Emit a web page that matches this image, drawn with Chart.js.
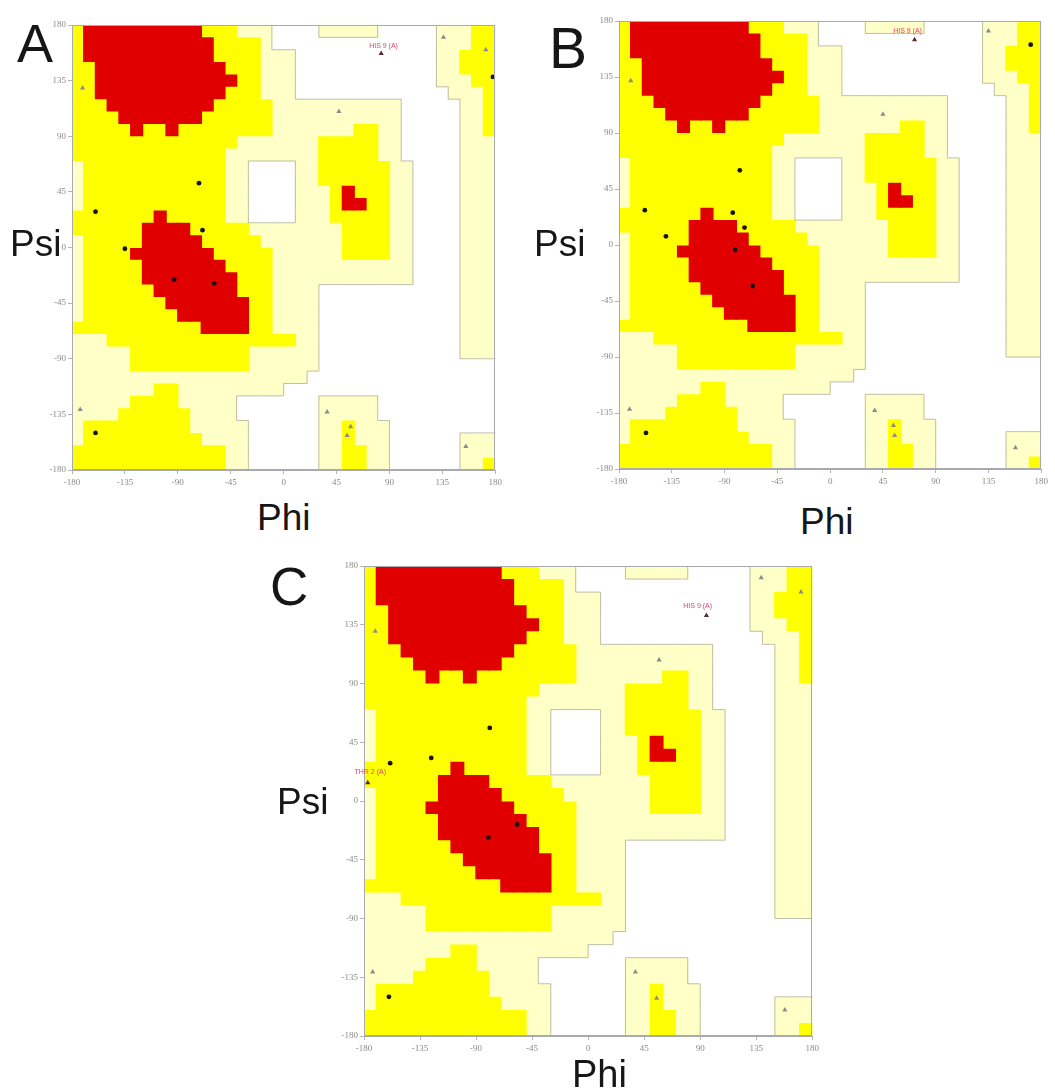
<!DOCTYPE html>
<html>
<head>
<meta charset="utf-8">
<script src="https://cdn.jsdelivr.net/npm/chart.js@4.4.1/dist/chart.umd.min.js"></script>
<style>
  html, body { margin:0; padding:0; background:#ffffff; }
  body { width:1055px; height:1092px; position:relative; overflow:hidden; font-family:"Liberation Sans", Arial, sans-serif; }
  canvas { position:absolute; }
  .lbl { position:absolute; line-height:1; color:#161616; white-space:nowrap; }
</style>
</head>
<body>
<canvas id="cA"></canvas>
<canvas id="cB"></canvas>
<canvas id="cC"></canvas>

<div class="lbl" style="left:17px;top:16px;font-size:54px;">A</div>
<div class="lbl" style="left:549px;top:20px;font-size:57px;">B</div>
<div class="lbl" style="left:270px;top:560px;font-size:53px;">C</div>
<div class="lbl" style="left:10px;top:225px;font-size:37px;">Psi</div>
<div class="lbl" style="left:534px;top:225px;font-size:37px;">Psi</div>
<div class="lbl" style="left:277px;top:783px;font-size:37px;">Psi</div>
<div class="lbl" style="left:257px;top:499px;font-size:37px;">Phi</div>
<div class="lbl" style="left:800px;top:503px;font-size:37px;">Phi</div>
<div class="lbl" style="left:572px;top:1055px;font-size:38px;">Phi</div>

<script>
// ---------- Ramachandran region map (10 deg cells) ----------
// rows: psi 180 -> -180 (row 0 = psi 170..180), columns: phi -180 -> 180
// r = most favoured, y = additional allowed, p = generously allowed, . = disallowed
const regionRows = [
  "yrrrrrrrrrryyyppp....ppppp.....pppyy",
  "yrrrrrrrrrrryyyyp..............pppyy",
  "yrrrrrrrrrrryyyyppp............ppyyy",
  "yyrrrrrrrrrrryyyppp............ppyyy",
  "yyrrrrrrrrrrrryyppp............pppyy",
  "yyrrrrrrrrrrryyyppp.............pppy",
  "yyyrrrrrrrrryyyyyppppppppppp.....ppy",
  "yyyyrrrrrrryyyyyyppppppppppp.....ppy",
  "yyyyyryyryyyyyyyypppppppyypp.....ppy",
  "yyyyyyyyyyyyyypppppppyyyyypp.....ppp",
  "yyyyyyyyyyyyyppppppppyyyyypp.....ppp",
  "pyyyyyyyyyyyypp....ppyyyyyypp....ppp",
  "pyyyyyyyyyyyypp....ppyyyyyypp....ppp",
  "pyyyyyyyyyyyypp....pppyryyypp....ppp",
  "pyyyyyyyyyyyypp....pppyrryypp....ppp",
  "yyyyyyyryyyyypp....pppyyyyypp....ppp",
  "yyyyyyrrrryyyyyppppppppyyyypp....ppp",
  "pyyyyyrrrrryyyyypppppppyyyypp....ppp",
  "pyyyyrrrrrrryyyyyppppppyyyypp....ppp",
  "pyyyyyrrrrrrryyyypppppppppppp....ppp",
  "pyyyyyrrrrrrrryyypppppppppppp....ppp",
  "pyyyyyyrrrrrrryyypppp............ppp",
  "pyyyyyyyrrrrrrryypppp............ppp",
  "pyyyyyyyyrrrrrryypppp............ppp",
  "yyyyyyyyyyyrrrryypppp............ppp",
  "pppyyyyyyyyyyyyyyyypp............ppp",
  "pppppyyyyyyyyyypppppp............ppp",
  "pppppyyyyyyyyyypppppp...............",
  "pppppppppppppppppppp................",
  "pppppppyyppppppppp..................",
  "pppppyyyyppppp.......ppppp..........",
  "ppppyyyyyypppp.......ppppp..........",
  "pyyyyyyyyyppppp......ppyppp.........",
  "pyyyyyyyyyypppp......ppyppp......ppp",
  "yyyyyyyyyyyyypp......ppyypp......ppp",
  "yyyyyyyyyyyyypp......ppyypp......ppy"
];
const phiBinCenters = [-175,-165,-155,-145,-135,-125,-115,-105,-95,-85,-75,-65,-55,-45,-35,-25,-15,-5,
                       5,15,25,35,45,55,65,75,85,95,105,115,125,135,145,155,165,175];
const psiBinEdges = [180,170,160,150,140,130,120,110,100,90,80,70,60,50,40,30,20,10,0,
                     -10,-20,-30,-40,-50,-60,-70,-80,-90,-100,-110,-120,-130,-140,-150,-160,-170,-180];
const axisTicks = [-180,-135,-90,-45,0,45,90,135,180];

// ---------- residues (phi, psi) ----------
const residuesA    = [[-72,52],[-160,29],[-69,14],[-135,-1],[-93,-26],[-59,-29],[-160,-150],[178,138]];
const glycinesA    = [[-171,129],[-173,-131],[136,170],[172,160],[47,110],[37,-133],[57,-145],[54,-152],[155,-161]];
const flaggedA     = [[83,157]];
const flagLabelsA  = [{phi:85, psi:163, text:"HIS 9 (A)"}];

const residuesB    = [[-77,60],[-158,28],[-83,26],[-73,14],[-140,7],[-81,-4],[-66,-33],[-157,-151],[171,161]];
const glycinesB    = [[-170,132],[-171,-132],[135,172],[45,105],[38,-133],[55,-153],[54,-145],[158,-163]];
const flaggedB     = [[72,165]];
const flagLabelsB  = [{phi:66, psi:172, text:"HIS 9 (A)"}];

const residuesC    = [[-79,56],[-126,33],[-159,29],[-57,-18],[-80,-28],[-160,-150]];
const glycinesC    = [[-171,130],[-173,-131],[38,-131],[55,-151],[158,-160],[139,171],[171,160],[57,108]];
const flaggedC     = [[95,142],[-177,14]];
const flagLabelsC  = [{phi:88, psi:149, text:"HIS 9 (A)"}, {phi:-175, psi:22, text:"THR 2 (A)"}];

// ---------- colours ----------
const COL_CORE = "#e10000";
const COL_ALLOWED = "#ffff00";
const COL_GENEROUS = "#ffffc8";

function columnRuns(chars) {
  const out = [];
  for (let c = 0; c < phiBinCenters.length; c++) {
    let r = 0;
    while (r < regionRows.length) {
      if (chars.indexOf(regionRows[r][c]) >= 0) {
        const s = r;
        while (r < regionRows.length && chars.indexOf(regionRows[r][c]) >= 0) r++;
        out.push({x: phiBinCenters[c], y: [psiBinEdges[r], psiBinEdges[s]]});
      } else r++;
    }
  }
  return out;
}
const toXY = arr => arr.map(p => ({x:p[0], y:p[1]}));

const framePlugin = {
  id: 'frame',
  afterDatasetsDraw(chart) {
    const a = chart.chartArea, ctx = chart.ctx;
    ctx.save();
    ctx.strokeStyle = '#a9a9b4';
    ctx.lineWidth = 1;
    ctx.strokeRect(Math.round(a.left)+0.5, Math.round(a.top)+0.5, Math.round(a.right-a.left)-1, Math.round(a.bottom-a.top)-1);
    ctx.restore();
  }
};

// faint grey outline where a generously-allowed cell meets a disallowed cell
const outlinePlugin = {
  id: 'regionOutline',
  afterDatasetDraw(chart, args) {
    if (args.index !== 3) return; // after the core (red) layer, before the residues
    const ctx = chart.ctx, xs = chart.scales.x, ys = chart.scales.y;
    const nR = regionRows.length, nC = phiBinCenters.length;
    const isW = (r, c) => regionRows[r][c] === '.';
    ctx.save();
    ctx.strokeStyle = 'rgba(170,170,150,0.75)';
    ctx.lineWidth = 1;
    ctx.beginPath();
    for (let r = 0; r < nR; r++) {
      for (let c = 0; c < nC; c++) {
        if (isW(r, c)) continue;
        const x0 = xs.getPixelForValue(phiBinCenters[c] - 5), x1 = xs.getPixelForValue(phiBinCenters[c] + 5);
        const y0 = ys.getPixelForValue(psiBinEdges[r]), y1 = ys.getPixelForValue(psiBinEdges[r + 1]);
        if (c + 1 < nC && isW(r, c + 1)) { ctx.moveTo(x1, y0); ctx.lineTo(x1, y1); }
        if (c > 0 && isW(r, c - 1)) { ctx.moveTo(x0, y0); ctx.lineTo(x0, y1); }
        if (r + 1 < nR && isW(r + 1, c)) { ctx.moveTo(x0, y1); ctx.lineTo(x1, y1); }
        if (r > 0 && isW(r - 1, c)) { ctx.moveTo(x0, y0); ctx.lineTo(x1, y0); }
      }
    }
    ctx.stroke();
    ctx.restore();
  }
};

function labelPlugin(items) {
  return {
    id: 'flagLabels',
    afterDatasetsDraw(chart) {
      const ctx = chart.ctx, xs = chart.scales.x, ys = chart.scales.y;
      ctx.save();
      ctx.font = '7px "Liberation Sans", Arial, sans-serif';
      ctx.fillStyle = '#e0406a';
      ctx.textAlign = 'center';
      ctx.textBaseline = 'middle';
      items.forEach(it => ctx.fillText(it.text, xs.getPixelForValue(it.phi), ys.getPixelForValue(it.psi)));
      ctx.restore();
    }
  };
}

function axisOpts(isX, fitSize) {
  return {
    type: 'linear', min: -180, max: 180, offset: false,
    afterBuildTicks(scale) { scale.ticks = axisTicks.map(v => ({value: v})); },
    afterFit(scale) { if (isX) scale.height = fitSize; else scale.width = fitSize; },
    ticks: { autoSkip:false, maxRotation:0, color:'#8a8a8a', padding: isX ? 3 : 2,
             font:{ size:9, family:'"Liberation Serif", "DejaVu Serif", serif' } },
    grid: { display:true, drawOnChartArea:false, drawTicks:true, tickLength:4, color:'#b4b4bc', offset:false },
    border: { display:true, color:'#a9a9b4' }
  };
}

function makePanel(id, area, residues, gly, flagged, labels) {
  const cv = document.getElementById(id);
  const W = area.w + 52, H = area.h + 32;
  cv.width = W; cv.height = H;
  cv.style.width = W + 'px'; cv.style.height = H + 'px';
  cv.style.left = (area.l - 44) + 'px';
  cv.style.top = (area.t - 8) + 'px';
  const barCommon = { grouped:false, barPercentage:1.12, categoryPercentage:1, borderWidth:0, borderSkipped:false };
  new Chart(cv.getContext('2d'), {
    type: 'bar',
    data: {
      datasets: [
        { type:'scatter', data: toXY(residues), order:0, pointStyle:'circle', pointRadius:2.4,
          backgroundColor:'#151515', borderWidth:0 },
        { type:'scatter', data: toXY(gly), order:0, pointStyle:'triangle', pointRadius:3,
          backgroundColor:'#8c8c8c', borderWidth:0 },
        { type:'scatter', data: toXY(flagged), order:0, pointStyle:'triangle', pointRadius:3,
          backgroundColor:'#5a2a3a', borderWidth:0 },
        Object.assign({ data: columnRuns("r"), backgroundColor: COL_CORE, order:2 }, barCommon),
        Object.assign({ data: columnRuns("ry"), backgroundColor: COL_ALLOWED, order:3 }, barCommon),
        Object.assign({ data: columnRuns("ryp"), backgroundColor: COL_GENEROUS, order:4 }, barCommon)
      ]
    },
    options: {
      responsive:false, animation:false, devicePixelRatio:1,
      layout: { padding: { left:0, right:8, top:8, bottom:0 } },
      plugins: { legend:{display:false}, tooltip:{enabled:false} },
      scales: { x: axisOpts(true, 24), y: axisOpts(false, 44) }
    },
    plugins: [outlinePlugin, framePlugin, labelPlugin(labels)]
  });
}

makePanel('cA', {l:72,  t:25,  w:425, h:445}, residuesA, glycinesA, flaggedA, flagLabelsA);
makePanel('cB', {l:619, t:21,  w:424, h:448}, residuesB, glycinesB, flaggedB, flagLabelsB);
makePanel('cC', {l:364, t:566, w:450, h:470}, residuesC, glycinesC, flaggedC, flagLabelsC);
</script>
</body>
</html>
